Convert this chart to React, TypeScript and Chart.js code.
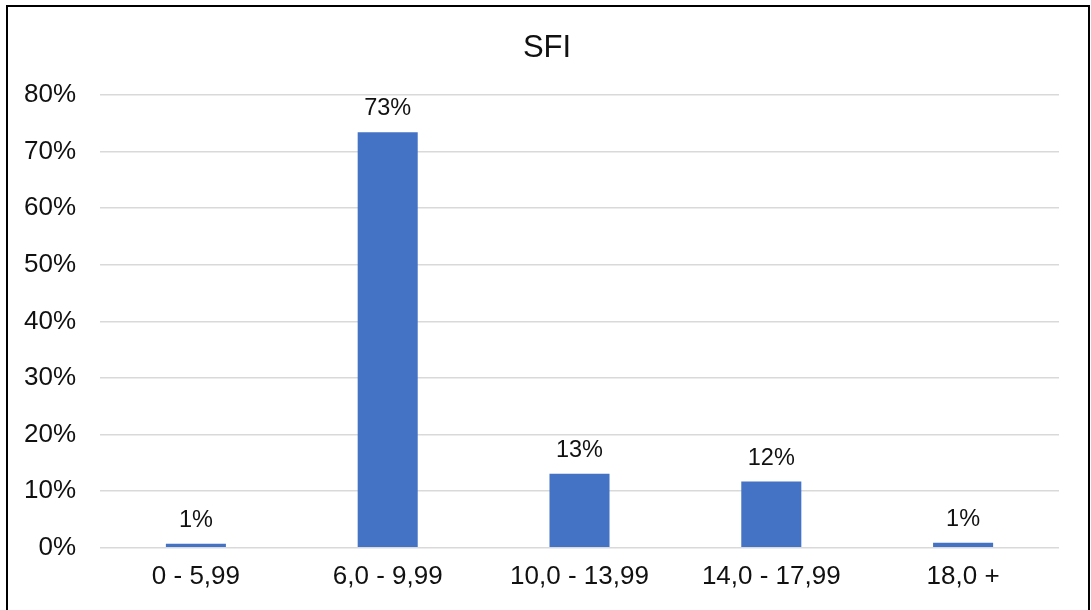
import React, { useEffect, useRef } from "react";
import { Chart, registerables } from "chart.js";

Chart.register(...registerables);

const categories = ["0 - 5,99", "6,0 - 9,99", "10,0 - 13,99", "14,0 - 17,99", "18,0 +"];
const values = [0.7, 73.4, 13.1, 11.7, 0.9];
const valueLabels = ["1%", "73%", "13%", "12%", "1%"];
const yTicks = [0, 10, 20, 30, 40, 50, 60, 70, 80];
const chartTitle = "SFI";

const FONT = "'Liberation Sans', Arial, sans-serif";

const frameAndLabels = {
  id: "frameAndLabels",
  afterDatasetsDraw(chart: any) {
    const ctx = chart.ctx;
    const meta = chart.getDatasetMeta(0);
    ctx.save();
    ctx.fillStyle = "#111";
    ctx.font = `23.5px ${FONT}`;
    ctx.textAlign = "center";
    ctx.textBaseline = "alphabetic";
    meta.data.forEach((el: any, i: number) => {
      ctx.fillText(valueLabels[i], el.x, el.y - 17);
    });
    ctx.restore();
  },
  afterDraw(chart: any) {
    const ctx = chart.ctx;
    ctx.save();
    ctx.fillStyle = "#111";
    ctx.font = `31px ${FONT}`;
    ctx.textAlign = "center";
    ctx.textBaseline = "alphabetic";
    ctx.fillText(chartTitle, 547, 57);
    ctx.strokeStyle = "#000";
    ctx.lineWidth = 2;
    ctx.strokeRect(7, 6, 1082, 700);
    ctx.restore();
  },
};

export default function App() {
  const ref = useRef<HTMLCanvasElement | null>(null);
  useEffect(() => {
    if (!ref.current) return;
    const chart = new Chart(ref.current, {
      type: "bar",
      data: {
        labels: categories,
        datasets: [
          {
            data: values,
            backgroundColor: "#4472C4",
            barPercentage: 0.313,
            categoryPercentage: 1,
          },
        ],
      },
      options: {
        animation: false,
        responsive: false,
        devicePixelRatio: 1,
        layout: { padding: { left: 0, right: 32, top: 95, bottom: 5 } },
        plugins: {
          legend: { display: false },
          tooltip: { enabled: false },
          title: { display: false },
        },
        scales: {
          x: {
            grid: { display: false, drawTicks: false },
            border: { display: false },
            ticks: {
              color: "#111",
              font: { family: FONT, size: 26 },
              padding: 13,
              maxRotation: 0,
            },
          },
          y: {
            min: 0,
            max: 80,
            afterFit(scale: any) {
              scale.width = 100;
            },
            afterBuildTicks(scale: any) {
              scale.ticks = yTicks.map((v) => ({ value: v }));
            },
            grid: { color: "#d9d9d9", lineWidth: 1.5, drawTicks: false },
            border: { display: false },
            ticks: {
              color: "#111",
              font: { family: FONT, size: 26 },
              padding: 24,
              callback: (v: any) => `${v}%`,
            },
          },
        },
      },
      plugins: [frameAndLabels],
    });
    return () => chart.destroy();
  }, []);
  return (
    <div style={{ position: "fixed", left: 0, top: 0, width: 1091, height: 610, background: "#fff" }}>
      <canvas ref={ref} width={1091} height={610} style={{ display: "block" }} />
    </div>
  );
}
